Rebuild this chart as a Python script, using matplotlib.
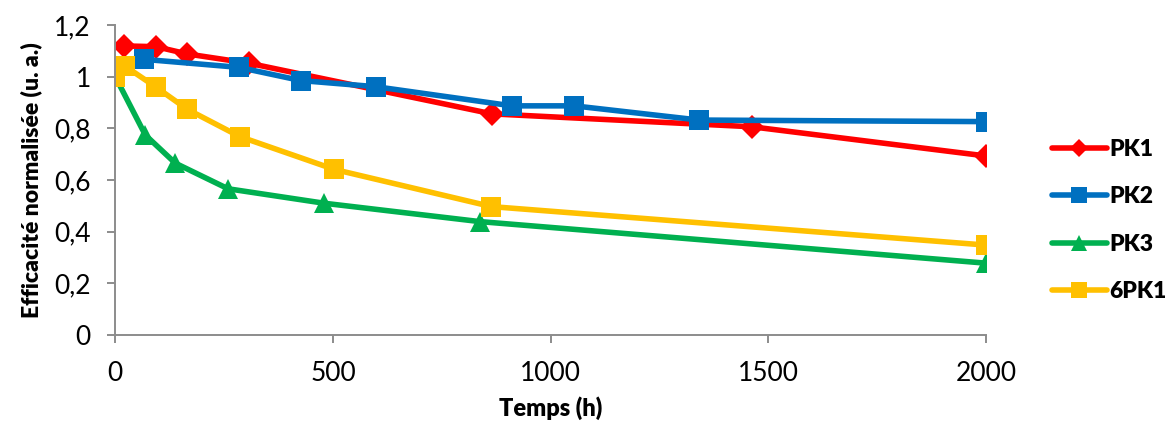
import numpy as np
import matplotlib
matplotlib.use('Agg')
import matplotlib.pyplot as plt
from matplotlib.ticker import MultipleLocator, FuncFormatter

plt.rcParams['font.family'] = ['Lato', 'DejaVu Sans']

# data
pk1_t = [20, 94, 165, 307, 865, 1462, 2000]
pk1_eff = [1.119, 1.116, 1.088, 1.052, 0.856, 0.806, 0.693]

pk2_t = [66, 284, 426, 599, 911, 1054, 1341, 2000]
pk2_eff = [1.067, 1.036, 0.985, 0.961, 0.887, 0.887, 0.832, 0.826]

pk3_t = [0, 69, 138, 259, 480, 837, 2000]
pk3_eff = [1.0, 0.774, 0.665, 0.566, 0.51, 0.439, 0.278]

pk6_t = [0, 22, 94, 165, 286, 503, 864, 2000]
pk6_eff = [1.0, 1.041, 0.959, 0.874, 0.768, 0.641, 0.497, 0.348]

series = [
    ('PK1', pk1_t, pk1_eff, '#FF0000', 'D', 12),
    ('PK2', pk2_t, pk2_eff, '#0070C0', 's', 14),
    ('PK3', pk3_t, pk3_eff, '#00B050', '^', 14.5),
    ('6PK1', pk6_t, pk6_eff, '#FFC000', 's', 14),
]

fig = plt.figure(figsize=(11.74, 4.28), dpi=100)
ax = fig.add_axes([0.0982, 0.2173, 0.7417, 0.7243])

for name, t, eff, color, marker, ms in series:
    ax.plot(t, eff, color=color, lw=4, marker=marker, markersize=ms,
            markeredgewidth=0, label=name, solid_capstyle='round')

ax.set_xlim(0, 2000)
ax.set_ylim(0, 1.2)
ax.xaxis.set_major_locator(MultipleLocator(500))
ax.yaxis.set_major_locator(MultipleLocator(0.2))
ax.yaxis.set_major_formatter(FuncFormatter(lambda v, p: ('%g' % round(v, 1)).replace('.', ',')))

for side in ['top', 'right']:
    ax.spines[side].set_visible(False)
for side in ['left', 'bottom']:
    ax.spines[side].set_color('#8c8c8c')
    ax.spines[side].set_linewidth(1.4)
ax.tick_params(axis='both', direction='out', length=5.5, width=1.4, color='#8c8c8c',
               labelsize=19)
ax.tick_params(axis='x', pad=13)
ax.tick_params(axis='y', pad=12)

ax.set_xlabel('Temps (h)', fontsize=17, fontweight='heavy', labelpad=8)
ax.set_ylabel('Efficacité normalisée (u. a.)', fontsize=16.5, fontweight='heavy', labelpad=9)

leg = ax.legend(loc='center left', bbox_to_anchor=(1.052, 0.369), frameon=False,
                prop={'size': 16.5, 'weight': 'heavy'}, handlelength=2.4,
                labelspacing=1.15, handletextpad=0.1)
for h in leg.legend_handles:
    h.set_markersize(h.get_markersize() * 0.8)

fig.savefig('out.png', dpi=100)
